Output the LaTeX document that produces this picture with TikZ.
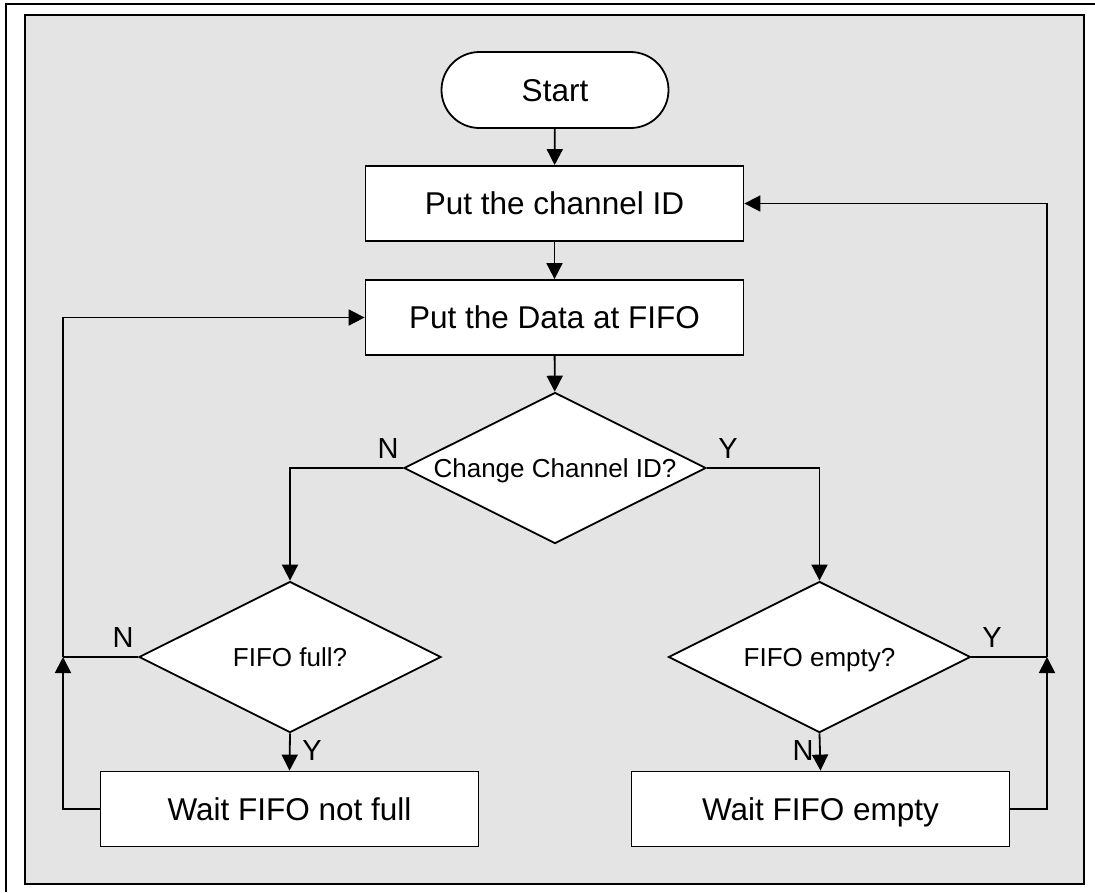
\documentclass[tikz,border=0pt]{standalone}
\usepackage{fontspec}
\setmainfont{Liberation Sans}
\usetikzlibrary{shapes.geometric,arrows.meta}
\begin{document}
\begin{tikzpicture}[x=1pt,y=-1pt,
  line width=1.8pt,
  proc/.style={draw,fill=white,rectangle,minimum width=378pt,minimum height=75pt,inner sep=0pt,font=\fontsize{31.5}{36}\selectfont,text height=22.6pt,text depth=0pt},
  dec/.style={draw,fill=white,diamond,shape aspect=2,inner sep=0pt,minimum width=302pt,minimum height=151pt,font=\fontsize{26}{30}\selectfont,text height=18.6pt,text depth=0pt},
  term/.style={draw,fill=white,rectangle,rounded corners=38pt,minimum width=227pt,minimum height=76pt,inner sep=0pt,font=\fontsize{31.5}{36}\selectfont,text height=22.6pt,text depth=0pt},
  lbl/.style={inner sep=0pt,font=\fontsize{29}{32}\selectfont,text height=20.8pt,text depth=0pt},
  arr/.style={-{Triangle[length=16pt,width=16pt]}}]
\useasboundingbox (0,0) rectangle (1095,892);
\draw[line width=2.2pt] (6,892) -- (6,4) -- (1095,4);
\draw[fill={rgb,255:red,228;green,228;blue,228},line width=2pt] (25,15) rectangle (1084,884);
\node[term] (start) at (555,90) {Start};
\node[proc] (b1) at (554.5,203.5) {Put the channel ID};
\node[proc] (b2) at (554.5,317.5) {Put the Data at FIFO};
\node[dec] (d1) at (555,468) {Change Channel ID?};
\node[dec] (d2) at (290,657) {FIFO full?};
\node[dec] (d3) at (819.5,657) {FIFO empty?};
\node[proc] (w1) at (289.5,809) {Wait FIFO not full};
\node[proc] (w2) at (820.5,809) {Wait FIFO empty};
\coordinate (jl) at (63,657);
\coordinate (jr) at (1047,657);
\draw[arr] (start) -- (b1);
\draw[arr] (b1) -- (b2);
\draw[arr] (b2) -- (d1);
\draw[arr] (d1.west) -| (d2.north);
\draw[arr] (d1.east) -| (d3.north);
\draw[arr] (d2.south) -- (w1.north);
\draw[arr] (d3.south) -- (w2.north);
\draw[arr] (w1.west) -| (jl);
\draw (d2.west) -- (jl);
\draw[arr] (jl) |- (b2.west);
\draw[arr] (w2.east) -| (jr);
\draw (d3.east) -- (jr);
\draw[arr] (jr) |- (b1.east);
\node[lbl] (n1) at (388,448) {N};
\node[lbl] (y1) at (728,448) {Y};
\node[lbl] (n2) at (123,637) {N};
\node[lbl] (y2) at (992,637) {Y};
\node[lbl] (y3) at (312,750) {Y};
\node[lbl] (n3) at (803,750) {N};
\end{tikzpicture}
\end{document}
